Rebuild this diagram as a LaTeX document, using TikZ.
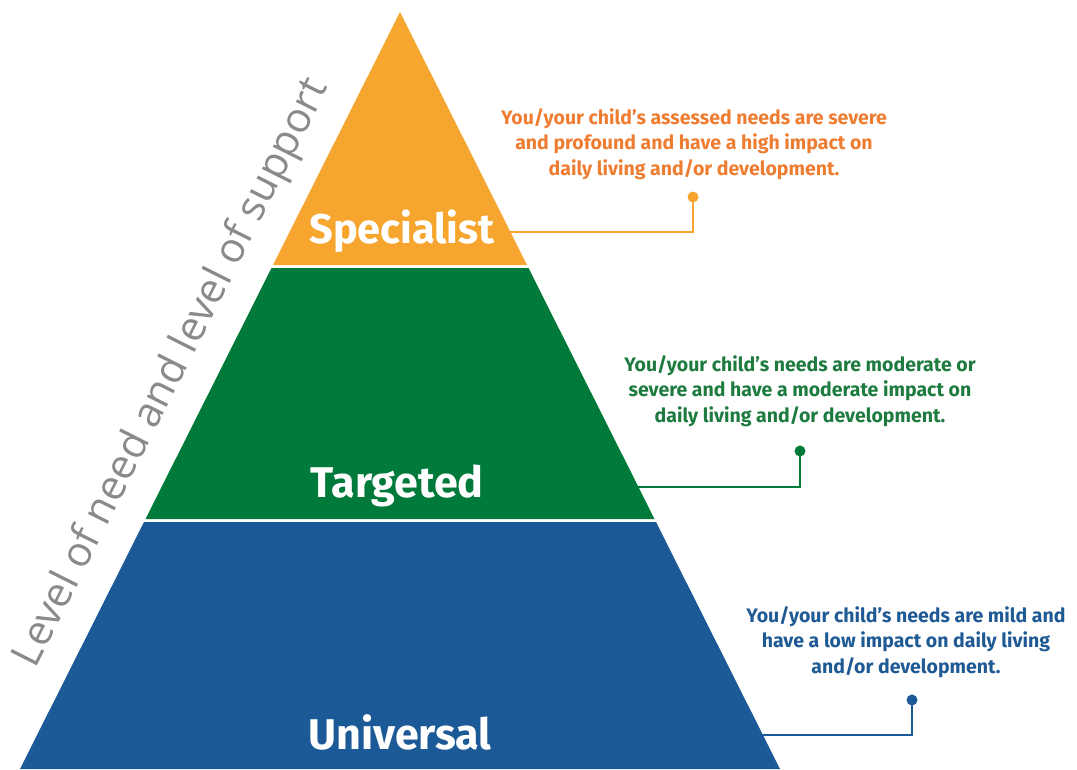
\documentclass[tikz,border=0pt]{standalone}
\usepackage{fontspec}
\setmainfont{Fira Sans}
\newfontfamily\axisfont{Open Sans}
\definecolor{orF}{HTML}{F6A62E}
\definecolor{orT}{HTML}{EE7D31}
\definecolor{grF}{HTML}{007A3B}
\definecolor{grT}{HTML}{1E7B3F}
\definecolor{blF}{HTML}{1B5A96}
\definecolor{blT}{HTML}{1F5A95}
\definecolor{axgray}{HTML}{8A8A8A}
\tikzset{
  bandlabel/.style={text=white, font=\bfseries\fontsize{43}{50}\selectfont, anchor=base, inner sep=0pt},
  desc/.style={align=center, font=\bfseries\fontsize{19.5}{25.5}\selectfont, inner sep=0pt},
  dotmark/.style={circle, inner sep=0pt, minimum size=11pt},
  conn/.style={line width=1.6pt},
}
\begin{document}
\begin{tikzpicture}[x=1pt,y=-1pt]
\useasboundingbox (0,0) rectangle (1077,769);
% bands
\fill[orF] (400,12) -- (527,265) -- (273,265) -- cycle;
\fill[grF] (271.5,268) -- (528.5,268) -- (654.5,519) -- (145.5,519) -- cycle;
\fill[blF] (144,522) -- (656,522) -- (780,769) -- (20,769) -- cycle;
% band labels
\node[bandlabel, font=\bfseries\fontsize{41.5}{50}\selectfont] (spec) at (402,243) {Specialist};
\node[bandlabel] (targ) at (397,497) {Targeted};
\node[bandlabel] (univ) at (400,749) {Universal};
% edge coordinates
\coordinate (eS) at (510,232);
\coordinate (eT) at (638,487);
\coordinate (eU) at (763,735);
% descriptions
\node[desc, text=orT] (dS) at (694,144) {You/your child’s assessed needs are severe\\and profound and have a high impact on\\daily living and/or development.};
\node[desc, text=grT] (dT) at (800,391) {You/your child’s needs are moderate or\\severe and have a moderate impact on\\daily living and/or development.};
\node[desc, text=blT] (dU) at (906,642) {You/your child's needs are mild and\\have a low impact on daily living\\and/or development.};
% dots and connectors
\node[dotmark, fill=orF] (pS) at (693,197) {};
\node[dotmark, fill=grF] (pT) at (800,451) {};
\node[dotmark, fill=blF] (pU) at (912,700) {};
\draw[conn, orF] (pS.center) |- (eS);
\draw[conn, grF] (pT.center) |- (eT);
\draw[conn, blF] (pU.center) |- (eU);
% axis label
\node[rotate=63.3, anchor=base, inner sep=0pt, text=axgray, font=\axisfont\fontsize{41.4}{48}\selectfont] (axis) at (182,378) {Level of need and level of support};
\end{tikzpicture}
\end{document}
